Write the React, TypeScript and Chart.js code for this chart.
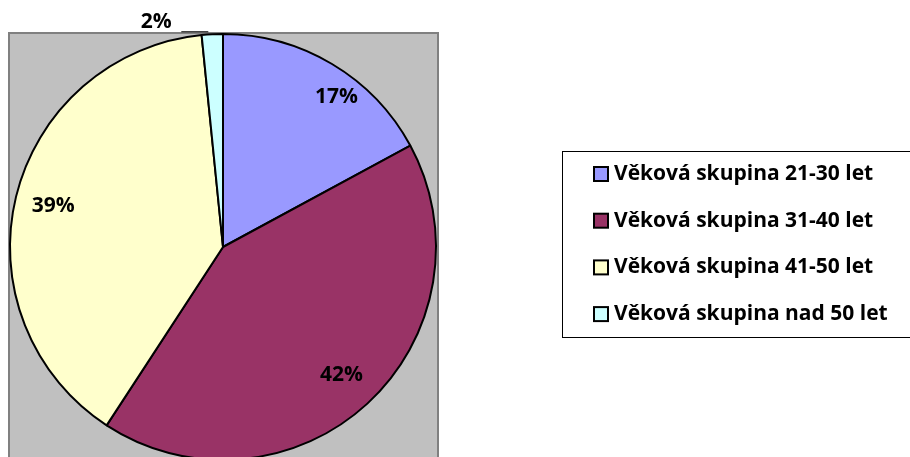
import React, { useEffect, useRef } from "react";
import { Chart, registerables } from "chart.js";

Chart.register(...registerables);

const categories = [
  "Věková skupina 21-30 let",
  "Věková skupina 31-40 let",
  "Věková skupina 41-50 let",
  "Věková skupina nad 50 let",
];
const values = [17.1, 42.1, 39.2, 1.6];
const colors = ["#9999FF", "#993366", "#FFFFCC", "#CCFFFF"];

const FONT = "'Open Sans', 'Liberation Sans', sans-serif";

const decorPlugin = {
  id: "decor",
  beforeDraw(chart: any) {
    const ctx = chart.ctx;
    ctx.save();
    ctx.fillStyle = "#FFFFFF";
    ctx.fillRect(0, 0, chart.width, chart.height);
    // plot area
    ctx.fillStyle = "#C0C0C0";
    ctx.fillRect(9, 33, 429, chart.height);
    ctx.strokeStyle = "#808080";
    ctx.lineWidth = 2;
    ctx.strokeRect(9, 33, 429, chart.height);
    ctx.restore();
  },
  afterDatasetsDraw(chart: any) {
    const ctx = chart.ctx;
    const meta = chart.getDatasetMeta(0);
    const data = chart.data.datasets[0].data as number[];
    const total = data.reduce((a, b) => a + b, 0);
    ctx.save();
    ctx.font = `bold 21px ${FONT}`;
    ctx.fillStyle = "#000";
    ctx.textAlign = "center";
    ctx.textBaseline = "middle";
    meta.data.forEach((arc: any, i: number) => {
      const p = arc.getProps(["x", "y", "startAngle", "endAngle", "outerRadius"], true);
      const mid = (p.startAngle + p.endAngle) / 2;
      const pct = Math.round((data[i] / total) * 100) + "%";
      if (data[i] / total < 0.05) {
        const ex = p.x + Math.cos(mid) * p.outerRadius;
        const ey = p.y + Math.sin(mid) * p.outerRadius;
        ctx.strokeStyle = "#000";
        ctx.lineWidth = 1;
        ctx.beginPath();
        ctx.moveTo(ex - 4, ey - 2.5);
        ctx.lineTo(ex - 31, ey - 2.5);
        ctx.stroke();
        ctx.fillText(pct, ex - 56, ey - 12);
      } else {
        const r = p.outerRadius * 0.82;
        let x = p.x + Math.cos(mid) * r;
        const y = p.y + Math.sin(mid) * r;
        if (i === 0) x += 24;
        ctx.fillText(pct, x, y);
      }
    });

    // legend
    const lx = 562, ly = 151, lw = 360, lh = 186;
    ctx.strokeStyle = "#000";
    ctx.lineWidth = 1;
    ctx.strokeRect(lx + 0.5, ly + 0.5, lw, lh);
    ctx.textAlign = "left";
    ctx.font = `bold 21px ${FONT}`;
    categories.forEach((c, i) => {
      const cy = 174 + i * 46.7;
      ctx.fillStyle = colors[i];
      ctx.fillRect(594, cy - 7, 14, 14);
      ctx.lineWidth = 2;
      ctx.strokeStyle = "#000";
      ctx.strokeRect(594, cy - 7, 14, 14);
      ctx.fillStyle = "#000";
      ctx.fillText(c, 614, cy);
    });
    ctx.restore();
  },
};

export default function App() {
  const ref = useRef<HTMLCanvasElement>(null);
  useEffect(() => {
    if (!ref.current) return;
    const chart = new Chart(ref.current, {
      type: "pie",
      data: {
        labels: categories,
        datasets: [
          {
            data: values,
            backgroundColor: colors,
            borderColor: "#000000",
            borderWidth: 2,
          },
        ],
      },
      options: {
        responsive: false,
        animation: false,
        events: [],
        layout: { padding: { left: 9, right: 473, top: 33, bottom: 19 } },
        plugins: {
          legend: { display: false },
          tooltip: { enabled: false },
        },
      },
      plugins: [decorPlugin],
    });
    return () => chart.destroy();
  }, []);
  return (
    <div style={{ position: "fixed", left: 0, top: 0, width: 910, height: 457, overflow: "hidden", background: "#fff" }}>
      <canvas ref={ref} width={910} height={480} style={{ display: "block" }} />
    </div>
  );
}
